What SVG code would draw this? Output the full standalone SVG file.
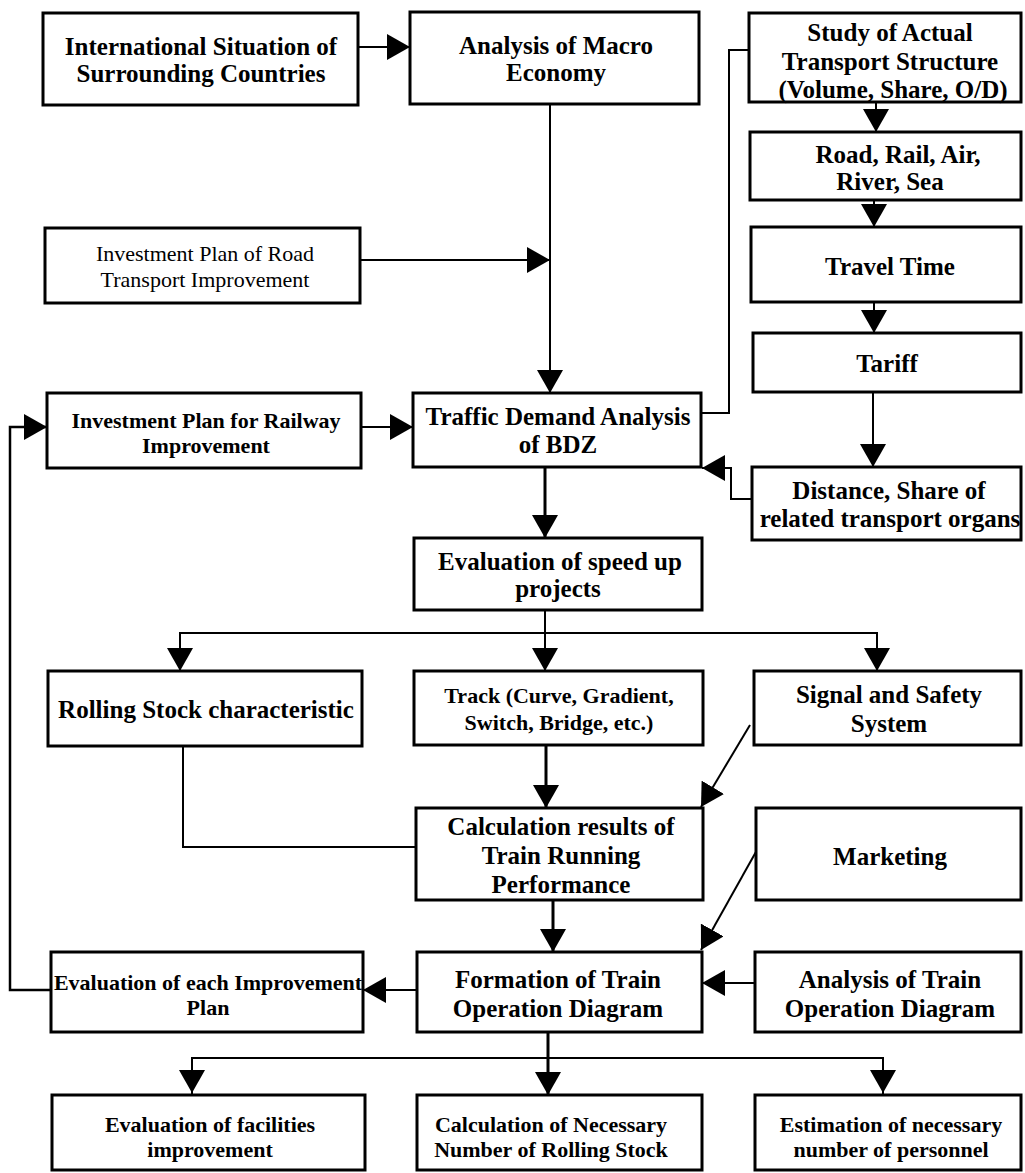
<svg xmlns="http://www.w3.org/2000/svg" width="1025" height="1173" viewBox="0 0 1025 1173">
<style>
.box{fill:#fff;stroke:#000;stroke-width:3}
.t{font-family:"Liberation Serif","Times New Roman",serif;font-weight:bold;font-size:25px;text-anchor:middle;fill:#000}
.s{font-size:22px}
.r{font-weight:normal;font-size:22px}
.c{fill:none;stroke:#000;stroke-width:2}
.ah{fill:#000}
</style>
<defs>
<marker id="arr" viewBox="0 0 23 26" refX="23" refY="13" markerWidth="23" markerHeight="26" markerUnits="userSpaceOnUse" orient="auto">
<path class="ah" d="M0,0 L23,13 L0,26 z"/>
</marker>
</defs>
<rect width="1025" height="1173" fill="#fff"/>
<g id="connectors">
<path class="c" d="M358,47 H410" marker-end="url(#arr)"/>
<path class="c" d="M550,104 V393" marker-end="url(#arr)"/>
<path class="c" d="M360,260 H550" marker-end="url(#arr)"/>
<path class="c" d="M361,427 H413" marker-end="url(#arr)"/>
<path class="c" d="M701,413 H729 V50 H749"/>
<path class="c" d="M876,102 V132" marker-end="url(#arr)"/>
<path class="c" d="M874,200 V227" marker-end="url(#arr)"/>
<path class="c" d="M874,302 V333" marker-end="url(#arr)"/>
<path class="c" d="M873,392 V467" marker-end="url(#arr)"/>
<path class="c" d="M752,499 H731 V468 H702" marker-end="url(#arr)"/>
<path class="c" d="M545,467 V538" marker-end="url(#arr)" style="stroke-width:3"/>
<path class="c" d="M545,610 V671" marker-end="url(#arr)"/>
<path class="c" d="M180,671 V633 H877 V671"/>
<path class="c" d="M180,640 V671" marker-end="url(#arr)"/>
<path class="c" d="M877,640 V671" marker-end="url(#arr)"/>
<path class="c" d="M546,745 V808" marker-end="url(#arr)" style="stroke-width:3"/>
<path class="c" d="M183,746 V847 H416"/>
<path class="c" d="M750,725 L701,807" marker-end="url(#arr)"/>
<path class="c" d="M757,850 L701,950" marker-end="url(#arr)"/>
<path class="c" d="M553,900 V952" marker-end="url(#arr)" style="stroke-width:3"/>
<path class="c" d="M755,983 H702" marker-end="url(#arr)"/>
<path class="c" d="M417,990 H363" marker-end="url(#arr)"/>
<path class="c" d="M51,990 H10 V427 H47" marker-end="url(#arr)" style="stroke-width:2.5"/>
<path class="c" d="M548,1032 V1095" marker-end="url(#arr)" style="stroke-width:3"/>
<path class="c" d="M192,1095 V1058 H883 V1095"/>
<path class="c" d="M192,1065 V1093" marker-end="url(#arr)"/>
<path class="c" d="M883,1065 V1093" marker-end="url(#arr)"/>
</g>
<g id="n-intl"><rect class="box" x="43" y="13" width="315" height="92"/><text class="t" x="201" y="55">International Situation of</text><text class="t" x="201" y="82">Surrounding Countries</text></g>
<g id="n-macro"><rect class="box" x="410" y="12" width="289" height="92"/><text class="t" x="556" y="54">Analysis of Macro</text><text class="t" x="556" y="81">Economy</text></g>
<g id="n-study"><rect class="box" x="749" y="13" width="272" height="89"/><text class="t" x="890" y="41">Study of Actual</text><text class="t" x="890" y="70">Transport Structure</text><text class="t" x="893" y="98">(Volume, Share, O/D)</text></g>
<g id="n-modes"><rect class="box" x="750" y="132" width="271" height="68"/><text class="t" x="898" y="163">Road, Rail, Air,</text><text class="t" x="890" y="190">River, Sea</text></g>
<g id="n-travel"><rect class="box" x="751" y="227" width="270" height="75"/><text class="t" x="890" y="275">Travel Time</text></g>
<g id="n-tariff"><rect class="box" x="753" y="333" width="268" height="59"/><text class="t" x="887" y="372">Tariff</text></g>
<g id="n-roadinv"><rect class="box" x="45" y="228" width="315" height="75"/><text class="t r" x="205" y="261">Investment Plan of Road</text><text class="t r" x="205" y="287">Transport Improvement</text></g>
<g id="n-railinv"><rect class="box" x="47" y="393" width="314" height="75"/><text class="t s" x="206" y="428">Investment Plan for Railway</text><text class="t s" x="206" y="453">Improvement</text></g>
<g id="n-traffic"><rect class="box" x="413" y="393" width="288" height="74"/><text class="t" x="558" y="425">Traffic Demand Analysis</text><text class="t" x="558" y="453">of BDZ</text></g>
<g id="n-distance"><rect class="box" x="752" y="467" width="269" height="73"/><text class="t" x="889" y="499">Distance, Share of</text><text class="t" x="890" y="527">related transport organs</text></g>
<g id="n-speed"><rect class="box" x="414" y="538" width="288" height="72"/><text class="t" x="560" y="570">Evaluation of speed up</text><text class="t" x="558" y="597">projects</text></g>
<g id="n-rolling"><rect class="box" x="48" y="671" width="314" height="75"/><text class="t" x="206" y="718">Rolling Stock characteristic</text></g>
<g id="n-track"><rect class="box" x="414" y="671" width="289" height="74"/><text class="t s" x="559" y="703">Track (Curve, Gradient,</text><text class="t s" x="559" y="730">Switch, Bridge, etc.)</text></g>
<g id="n-signal"><rect class="box" x="754" y="671" width="267" height="74"/><text class="t" x="889" y="703">Signal and Safety</text><text class="t" x="889" y="732">System</text></g>
<g id="n-calcres"><rect class="box" x="416" y="808" width="287" height="92"/><text class="t" x="561" y="835">Calculation results of</text><text class="t" x="561" y="864">Train Running</text><text class="t" x="561" y="893">Performance</text></g>
<g id="n-marketing"><rect class="box" x="756" y="808" width="265" height="92"/><text class="t" x="890" y="865">Marketing</text></g>
<g id="n-evaleach"><rect class="box" x="51" y="952" width="312" height="80"/><text class="t s" x="208" y="990">Evaluation of each Improvement</text><text class="t s" x="208" y="1015">Plan</text></g>
<g id="n-formation"><rect class="box" x="417" y="952" width="285" height="80"/><text class="t" x="558" y="988">Formation of Train</text><text class="t" x="558" y="1017">Operation Diagram</text></g>
<g id="n-anatrain"><rect class="box" x="755" y="952" width="266" height="80"/><text class="t" x="890" y="988">Analysis of Train</text><text class="t" x="890" y="1017">Operation Diagram</text></g>
<g id="n-evalfac"><rect class="box" x="52" y="1095" width="313" height="75"/><text class="t s" x="210" y="1132">Evaluation of facilities</text><text class="t s" x="210" y="1157">improvement</text></g>
<g id="n-calcnec"><rect class="box" x="417" y="1095" width="285" height="75"/><text class="t s" x="551" y="1132">Calculation of Necessary</text><text class="t s" x="551" y="1157">Number of Rolling Stock</text></g>
<g id="n-estim"><rect class="box" x="755" y="1095" width="266" height="75"/><text class="t s" x="891" y="1132">Estimation of necessary</text><text class="t s" x="891" y="1157">number of personnel</text></g>
</svg>
